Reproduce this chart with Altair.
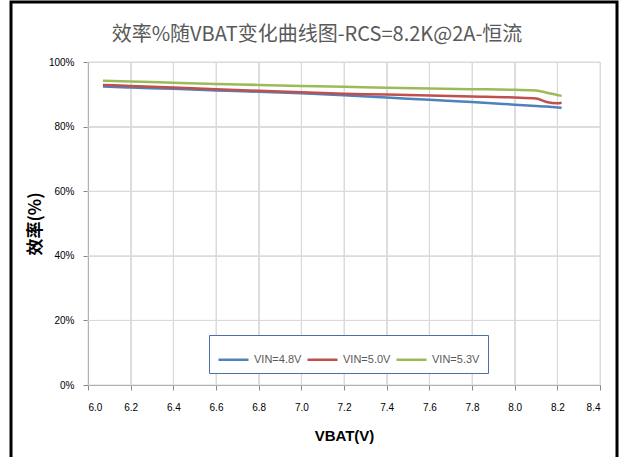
import altair as alt
import pandas as pd

vbat = [6.07, 6.2, 6.4, 6.6, 6.8, 7.0, 7.2, 7.4, 7.6, 7.8, 8.0, 8.1, 8.15, 8.2, 8.22]
eff_48 = [92.4, 92.1, 91.7, 91.2, 90.8, 90.3, 89.7, 89.0, 88.3, 87.6, 86.8, 86.4, 86.2, 85.9, 85.8]
eff_50 = [92.9, 92.6, 92.1, 91.6, 91.1, 90.6, 90.2, 89.9, 89.6, 89.3, 89.0, 88.7, 87.6, 87.2, 87.4]
eff_53 = [94.2, 94.0, 93.6, 93.2, 92.9, 92.6, 92.3, 92.0, 91.8, 91.6, 91.4, 91.2, 90.5, 89.8, 89.5]
series = ["VIN=4.8V", "VIN=5.0V", "VIN=5.3V"]
colors = ["#4F81BD", "#C0504D", "#9BBB59"]
x_ticks = [6.0, 6.2, 6.4, 6.6, 6.8, 7.0, 7.2, 7.4, 7.6, 7.8, 8.0, 8.2, 8.4]
y_ticks = [0, 0.2, 0.4, 0.6, 0.8, 1.0]
title_text = "效率%随VBAT变化曲线图-RCS=8.2K@2A-恒流"

rows = []
for name, vals in zip(series, [eff_48, eff_50, eff_53]):
    for i, (x, y) in enumerate(zip(vbat, vals)):
        rows.append({"VBAT": x, "eff": y / 100.0, "series": name, "order": i})
df = pd.DataFrame(rows)

grid_color = "#d9d9d9"

xscale = alt.Scale(domain=[6.0, 8.4], nice=False)
yscale = alt.Scale(domain=[0, 1], nice=False)

vgrid = alt.Chart(pd.DataFrame({"VBAT": x_ticks})).mark_rule(
    color=grid_color, strokeWidth=1
).encode(x=alt.X("VBAT:Q", scale=xscale))

hgrid = alt.Chart(pd.DataFrame({"eff": y_ticks})).mark_rule(
    color=grid_color, strokeWidth=1
).encode(y=alt.Y("eff:Q", scale=yscale))

lines = alt.Chart(df).mark_line(strokeWidth=2.5, interpolate="monotone").encode(
    x=alt.X("VBAT:Q", title="VBAT(V)", scale=xscale,
            axis=alt.Axis(values=x_ticks,
                          format=".1f", labelPadding=12, titlePadding=16,
                          titleFont="Liberation Sans", titleFontSize=15)),
    y=alt.Y("eff:Q", title="效率(%)", scale=yscale,
            axis=alt.Axis(values=y_ticks, format=".0%",
                          labelPadding=9, titlePadding=4,
                          titleFont="Noto Sans CJK SC", titleFontSize=17)),
    color=alt.Color("series:N", sort=series,
                    scale=alt.Scale(domain=series, range=colors),
                    legend=alt.Legend(title=None, orient="none", direction="horizontal",
                                      legendX=121, legendY=273,
                                      padding=8, fillColor="white",
                                      strokeColor="#4a6fa5",
                                      symbolType="stroke", symbolSize=900,
                                      symbolStrokeWidth=2.5, columnPadding=0,
                                      labelOffset=4,
                                      labelFontSize=11, labelColor="#595959",
                                      labelFont="Liberation Sans")),
    order="order:Q",
)

frame = alt.Chart(pd.DataFrame({"f": [1]})).mark_rect(
    filled=False, stroke="black", strokeWidth=3
).encode(
    x=alt.value(-77), x2=alt.value(529), y=alt.value(-60), y2=alt.value(420)
)

title = alt.Chart(pd.DataFrame({"t": [1]})).mark_text(
    text=title_text, font="Noto Sans CJK SC", fontSize=20, color="#595959",
    align="center", baseline="middle"
).encode(x=alt.value(229), y=alt.value(-27))

chart = alt.layer(vgrid, hgrid, lines, frame, title).properties(
    width=512, height=323,
    padding={"left": 88, "top": 62, "right": 21, "bottom": 72},
    autosize="none",
).configure_view(stroke=grid_color).configure_axis(
    grid=False, domain=False, ticks=False,
    labelColor="#595959", labelFontSize=12, labelFont="Liberation Sans",
    titleColor="#404040", titleFontWeight="bold"
).configure(background="white")

chart.save("out.html", embed_options={"renderer": "svg", "actions": False})
